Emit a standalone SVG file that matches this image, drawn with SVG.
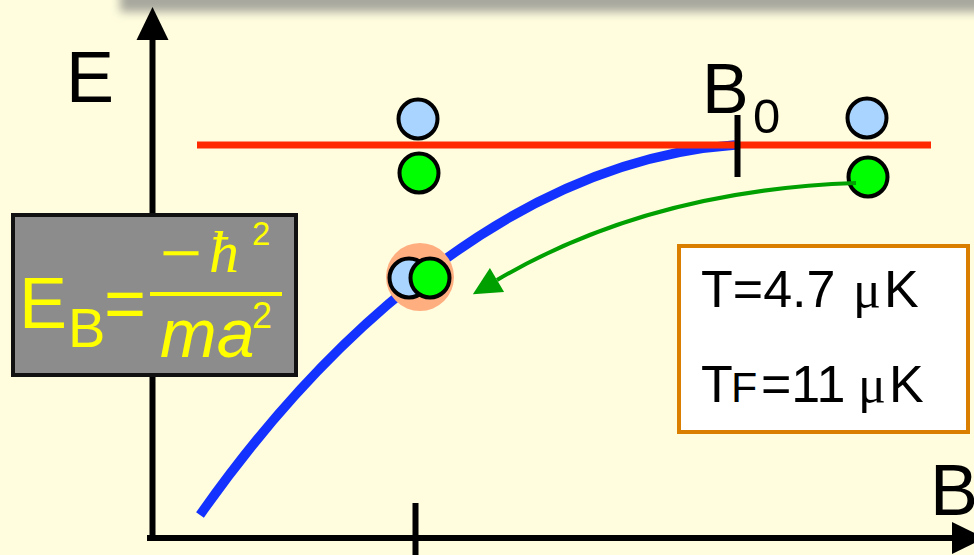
<svg xmlns="http://www.w3.org/2000/svg" width="974" height="555" viewBox="0 0 974 555">
  <defs>
    <filter id="blur" x="-10%" y="-100%" width="120%" height="300%">
      <feGaussianBlur stdDeviation="5"/>
    </filter>
    <marker id="axisArrow" markerUnits="userSpaceOnUse" markerWidth="34" markerHeight="32" refX="0" refY="16" orient="auto" overflow="visible">
      <path d="M0,0 L33,16 L0,32 z" fill="#000"/>
    </marker>
    <marker id="greenArrow" markerUnits="userSpaceOnUse" markerWidth="28" markerHeight="28" refX="0" refY="14" orient="auto" overflow="visible">
      <path d="M0,0 L28,14 L0,28 z" fill="#00A000"/>
    </marker>
    <style>
      .lbl { font-family: "Liberation Sans", Arial, sans-serif; fill: #000; }
      .eb { font-family: "Liberation Sans", Arial, sans-serif; fill: #FFFF00; }
      .axis { stroke: #000; stroke-width: 6; fill: none; }
      .tick { stroke: #000; stroke-width: 6; }
      .atomB { fill: #A8D4FF; stroke: #000; stroke-width: 4; }
      .atomG { fill: #00FF00; stroke: #000; stroke-width: 4; }
    </style>
  </defs>

  <rect x="0" y="0" width="974" height="555" fill="#FFFDDE"/>
  <rect x="120" y="-30" width="880" height="42" fill="#A8A89E" filter="url(#blur)"/>

  <g id="axes">
    <line class="axis" x1="152.5" y1="541" x2="152.5" y2="40" marker-end="url(#axisArrow)"/>
    <line class="axis" x1="147" y1="538" x2="952" y2="538" marker-end="url(#axisArrow)"/>
    <line class="tick" x1="415.5" y1="503" x2="415.5" y2="555"/>
    <text class="lbl" x="66" y="102" font-size="72">E</text>
    <text class="lbl" x="930" y="515" font-size="72">B</text>
  </g>

  <g id="curves">
    <path d="M 200 515 C 330 330, 520 160, 735 145" fill="none" stroke="#1432FF" stroke-width="9.5"/>
    <line x1="197" y1="145" x2="931" y2="145" stroke="#FF2A00" stroke-width="7"/>
  </g>

  <g id="b0-marker">
    <line class="tick" x1="737.5" y1="115" x2="737.5" y2="177"/>
    <text class="lbl" x="702" y="113" font-size="70">B</text>
    <text class="lbl" x="753" y="133" font-size="49">0</text>
  </g>

  <g id="atoms-mid">
    <circle class="atomB" cx="418" cy="119" r="19.5"/>
    <circle class="atomG" cx="419" cy="173" r="19.5"/>
  </g>

  <g id="atoms-right">
    <circle class="atomB" cx="867" cy="118" r="19.5"/>
    <circle class="atomG" cx="868" cy="177" r="19.5"/>
  </g>

  <g id="molecule">
    <circle cx="420" cy="277" r="34" fill="#FFAE80"/>
    <circle class="atomB" cx="409" cy="278" r="19.5"/>
    <circle class="atomG" cx="430" cy="278" r="19.5"/>
  </g>

  <g id="connectors">
    <path d="M 856 183 Q 650 190 497 280" fill="none" stroke="#00A000" stroke-width="4" marker-end="url(#greenArrow)"/>
  </g>

  <g id="eb-box">
    <rect x="13" y="215" width="283" height="160" fill="#8C8C8C" stroke="#111" stroke-width="4"/>
    <text class="eb" x="19" y="328" font-size="72">E</text>
    <text class="eb" x="68" y="347" font-size="56">B</text>
    <text class="eb" x="104" y="328" font-size="72">=</text>
    <line x1="150" y1="294" x2="282" y2="294" stroke="#FFFF00" stroke-width="4"/>
    <text class="eb" x="160" y="272" font-size="56" textLength="42" lengthAdjust="spacingAndGlyphs" font-family="Liberation Serif, serif">−</text>
    <text x="209" y="272" font-size="60" font-style="italic" fill="#FFFF00" font-family="Liberation Serif, serif">ħ</text>
    <text class="eb" x="252" y="245" font-size="33">2</text>
    <text class="eb" x="160" y="357" font-size="68" font-style="italic">ma</text>
    <text class="eb" x="252" y="328" font-size="36">2</text>
  </g>

  <g id="temp-box">
    <rect x="679" y="246" width="289" height="186" fill="#FFFFFF" stroke="#DA7E00" stroke-width="4"/>
    <text class="lbl" x="701" y="307" font-size="52">T=4.7</text>
    <text x="853" y="307" font-size="52" font-family="Liberation Serif, serif">μ</text>
    <text class="lbl" x="884" y="307" font-size="52">K</text>
    <text class="lbl" x="701" y="402" font-size="52">T</text>
    <text class="lbl" x="731" y="402" font-size="43">F</text>
    <text class="lbl" x="761" y="402" font-size="52">=11</text>
    <text x="858" y="402" font-size="52" font-family="Liberation Serif, serif">μ</text>
    <text class="lbl" x="889" y="402" font-size="52">K</text>
  </g>
</svg>
